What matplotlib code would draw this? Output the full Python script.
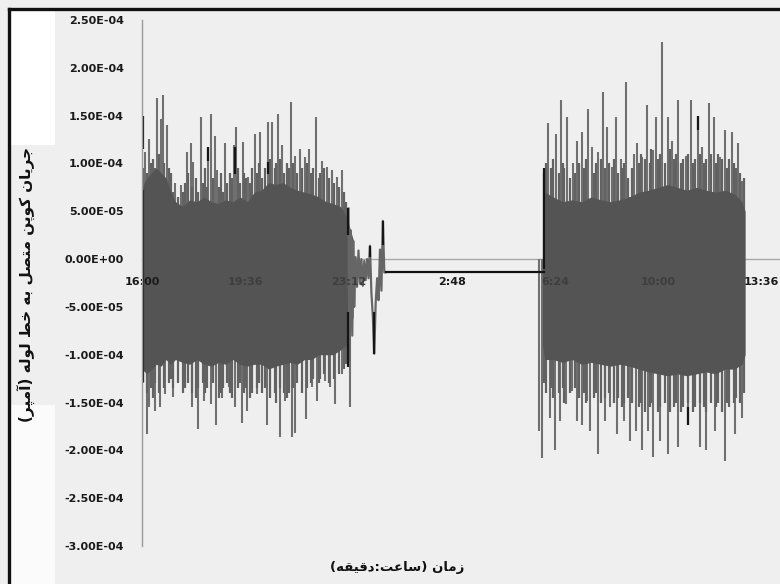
import numpy as np
import matplotlib.pyplot as plt
from matplotlib.lines import Line2D
from matplotlib.patches import Rectangle

# ---------------- data (time in minutes after 16:00, current in 1e-4 A) ----------------
tick_minutes = [0, 216, 432, 648, 864, 1080, 1296]
tick_labels = ['16:00', '19:36', '23:12', '2:48', '6:24', '10:00', '13:36']
y_ticks_e4 = [2.5, 2.0, 1.5, 1.0, 0.5, 0.0, -0.5, -1.0, -1.5, -2.0, -2.5, -3.0]

# first active period: dense band
b1_core_t = [0, 10, 20, 30, 40, 50, 60, 70, 85, 100, 115, 130, 145, 160, 175, 190, 205,
             220, 235, 250, 265, 280, 295, 310, 325, 340, 355, 370, 385, 400, 415, 428, 442]
b1_core_hi = [0.75, 0.85, 0.9, 0.95, 0.9, 0.85, 0.7, 0.6, 0.55, 0.62, 0.6, 0.65, 0.6, 0.58,
              0.62, 0.6, 0.65, 0.6, 0.7, 0.72, 0.8, 0.78, 0.8, 0.75, 0.72, 0.7, 0.68, 0.65,
              0.6, 0.58, 0.55, 0.45, 0.2]
b1_core_lo = [-1.15, -1.2, -1.15, -1.1, -1.12, -1.05, -1.1, -1.05, -1.08, -1.1, -1.05, -1.1,
              -1.12, -1.08, -1.1, -1.05, -1.1, -1.12, -1.1, -1.1, -1.15, -1.12, -1.1, -1.08,
              -1.1, -1.05, -1.05, -1.0, -1.0, -1.0, -0.95, -0.9, -0.6]

# first active period: ordinary swings
b1_mid_t = [3, 11, 19, 23, 27, 35, 47, 57, 61, 65, 75, 86, 89, 97, 104, 112, 117, 127, 132,
            135, 148, 162, 166, 170, 177, 185, 188, 200, 206, 214, 218, 227, 231, 241, 244,
            252, 257, 268, 278, 281, 289, 298, 303, 307, 316, 325, 335, 345, 354, 358, 370,
            373, 381, 391, 402, 412, 422, 427]
b1_mid_hi = [0.95, 0.9, 1.0, 1.05, 0.95, 1.1, 1.0, 0.95, 0.9, 0.7, 0.65, 0.7, 0.8, 0.9, 0.75,
             0.85, 0.7, 0.8, 0.95, 0.75, 0.85, 0.75, 0.9, 0.7, 0.8, 0.9, 0.85, 0.95, 0.8, 0.9,
             0.85, 0.8, 0.95, 0.9, 1.0, 0.85, 0.95, 1.05, 0.95, 1.0, 1.05, 0.9, 1.0, 0.95, 1.0,
             0.9, 0.95, 1.0, 0.9, 0.95, 0.85, 0.9, 0.95, 0.85, 0.8, 0.75, 0.7, 0.6]
b1_mid_lo = [-1.3, -1.4, -1.35, -1.45, -1.3, -1.4, -1.35, -1.3, -1.25, -1.35, -1.3, -1.4, -1.35,
             -1.3, -1.4, -1.45, -1.35, -1.3, -1.4, -1.35, -1.3, -1.45, -1.4, -1.35, -1.3, -1.4,
             -1.45, -1.35, -1.3, -1.4, -1.35, -1.45, -1.4, -1.35, -1.3, -1.4, -1.35, -1.45,
             -1.4, -1.5, -1.35, -1.4, -1.45, -1.4, -1.35, -1.3, -1.4, -1.35, -1.3, -1.25, -1.3,
             -1.25, -1.2, -1.3, -1.25, -1.2, -1.15, -1.1]

# first active period: largest positive and negative excursions
b1_peak_t = [6.3, 15.3, 30.7, 39.1, 43.3, 53.0, 69.1, 81.0, 93.5, 101.9, 107.4, 122.8,
             138.8, 144.4, 152.8, 157.6, 173.7, 180.6, 192.6, 196.7, 203.7, 210.8, 222.5,
             236.5, 247.0, 263.1, 272.7, 285.3, 293.7, 311.9, 320.2, 330.7, 341.2, 349.5,
             364.8, 377.4, 386.5, 397.0, 407.4, 417.9, 431.9]
b1_peak_v = [1.12, 1.26, 1.68, 1.47, 1.72, 1.40, 0.80, 0.77, 1.12, 1.21, 1.01, 1.49,
             1.17, 1.52, 1.29, 0.93, 1.21, 0.54, 1.19, 1.38, 0.79, 1.22, 0.86,
             1.31, 1.33, 1.43, 1.43, 1.52, 1.19, 1.64, 1.08, 1.15, 1.07, 1.15,
             1.49, 1.03, 0.96, 0.93, 0.86, 0.93, 0.51]
b1_trough_t = [9.8, 15.3, 27.2, 37.7, 48.1, 65.5, 104.0, 117.9, 129.8, 143.8, 154.9,
               166.8, 182.7, 194.6, 208.7, 220.4, 240.0, 260.9, 288.8, 299.3, 313.3,
               320.2, 342.6, 355.2, 365.6, 383.0, 393.5, 404.0, 417.9, 433.2, 436.0]
b1_trough_v = [-1.83, -1.55, -1.59, -1.55, -1.41, -1.44, -1.55, -1.78, -1.48, -1.52, -1.74,
               -1.45, -1.34, -1.55, -1.71, -1.59, -1.41, -1.73, -1.86, -1.48, -1.86,
               -1.82, -1.67, -1.34, -1.48, -1.27, -1.34, -1.52, -1.20, -1.13, -1.55]

# shutdown transient
tr_t = [432, 434, 437, 440, 442, 444, 447, 450, 453, 456, 459, 462, 465, 468, 471, 474,
        477, 480, 483, 486, 489, 492, 495, 498, 501, 504, 507, 511]
tr_v = [0.53, -1.06, 0.30, -0.80, 0.19, -0.50, 0.02, -0.29, 0.09, -0.25, 0.00, -0.28,
        -0.02, -0.22, 0.00, -0.20, 0.14, -0.35, -0.60, -0.99, -0.45, -0.20, -0.43, 0.10,
        -0.33, 0.40, -0.14, -0.137]

# idle period
idle_t = [511, 841]
idle_v = [-0.137, -0.137]

# second active period: dense band
b2_core_t = [838, 843, 860, 880, 900, 920, 940, 960, 980, 1000, 1020, 1040, 1060, 1080, 1100,
             1120, 1140, 1160, 1180, 1200, 1220, 1240, 1255, 1262]
b2_core_hi = [0.3, 0.7, 0.65, 0.6, 0.62, 0.6, 0.65, 0.62, 0.6, 0.62, 0.65, 0.7, 0.72, 0.75,
              0.78, 0.75, 0.72, 0.75, 0.72, 0.7, 0.72, 0.68, 0.6, 0.5]
b2_core_lo = [-0.9, -1.05, -1.05, -1.08, -1.05, -1.1, -1.08, -1.1, -1.12, -1.1, -1.12, -1.15,
              -1.18, -1.2, -1.22, -1.2, -1.22, -1.2, -1.18, -1.2, -1.15, -1.15, -1.1, -1.0]

# second active period: ordinary swings
b2_mid_t = [841, 845, 856, 860, 872, 880, 884, 895, 906, 915, 925, 929, 946, 950, 960, 968,
            978, 987, 996, 1005, 1009, 1017, 1025, 1041, 1044, 1052, 1062, 1066, 1080, 1084,
            1094, 1104, 1114, 1118, 1128, 1132, 1142, 1153, 1157, 1167, 1176, 1180, 1191,
            1202, 1206, 1214, 1225, 1229, 1238, 1242, 1251, 1260]
b2_mid_hi = [0.9, 1.0, 0.95, 1.05, 0.9, 1.0, 0.95, 0.85, 0.9, 1.0, 0.95, 1.05, 0.9, 1.0, 1.05,
             0.95, 1.0, 1.05, 0.9, 0.95, 1.0, 0.85, 0.95, 1.0, 1.1, 1.05, 1.0, 1.15, 1.05, 1.1,
             1.0, 1.15, 1.05, 1.1, 1.0, 1.05, 1.1, 1.0, 1.05, 1.1, 1.0, 1.05, 1.1, 1.0, 1.1,
             1.05, 0.95, 1.05, 1.0, 0.95, 0.9, 0.85]
b2_mid_lo = [-1.3, -1.4, -1.35, -1.45, -1.4, -1.35, -1.5, -1.4, -1.35, -1.45, -1.4, -1.5,
             -1.45, -1.4, -1.5, -1.45, -1.4, -1.5, -1.45, -1.55, -1.5, -1.45, -1.5, -1.55, -1.5,
             -1.6, -1.55, -1.5, -1.6, -1.55, -1.5, -1.6, -1.55, -1.5, -1.6, -1.55, -1.5, -1.6,
             -1.55, -1.5, -1.55, -1.6, -1.5, -1.55, -1.5, -1.6, -1.5, -1.55, -1.5, -1.45, -1.5,
             -1.4]

# second active period: largest positive and negative excursions
b2_peak_t = [850.4, 866.5, 876.3, 890.1, 902.7, 911.1, 920.3, 934.1, 941.2, 955.0, 964.3,
             973.9, 983.1, 992.1, 1001.9, 1013.0, 1021.4, 1029.8, 1036.7, 1047.2, 1056.3,
             1070.2, 1075.1, 1089.0, 1100.2, 1109.9, 1122.5, 1137.8, 1148.9, 1162.9,
             1171.3, 1186.6, 1197.0, 1209.7, 1220.1, 1234.1, 1246.6, 1256.3]
b2_peak_v = [1.42, 1.31, 1.66, 1.49, 1.00, 1.24, 1.33, 1.57, 1.17, 1.12, 1.75,
             1.38, 0.96, 1.49, 1.05, 1.85, 0.65, 1.10, 1.21, 1.07, 1.61,
             1.14, 1.49, 2.27, 1.49, 1.24, 1.66, 1.08, 1.66, 1.50,
             1.17, 1.63, 1.49, 1.07, 1.35, 1.33, 1.21, 0.82]
b2_trough_t = [831.6, 836.5, 853.9, 864.4, 874.9, 887.4, 899.3, 909.8, 920.3, 930.7, 937.7,
               955.0, 969.1, 979.5, 994.8, 1008.8, 1021.4, 1033.9, 1047.2, 1059.7, 1070.2,
               1084.2, 1101.6, 1122.5, 1143.4, 1167.9, 1179.8, 1199.3, 1220.1, 1241.0,
               1256.3]
b2_trough_v = [-1.80, -2.08, -1.66, -2.00, -1.69, -1.52, -1.38, -1.69, -1.73, -1.48, -1.80,
               -2.04, -1.69, -1.55, -1.83, -1.69, -1.90, -1.80, -2.00, -1.80, -2.07,
               -1.90, -2.04, -1.97, -1.73, -1.97, -2.00, -1.80, -2.11, -1.83,
               -1.66]

# dark segments of the recording (time, low, high)
dark_t = [1.4, 1.4, 138.8, 194.0, 263.1, 432.0, 432.0, 477.0, 486.0, 504.0, 841.0, 1143.4, 1162.9]
dark_lo = [-1.29, 1.15, 1.03, 0.89, 0.89, -1.13, 0.25, 0.02, -0.99, 0.15, -0.10, -1.73, 1.35]
dark_hi = [0.72, 1.50, 1.17, 1.17, 1.01, -0.55, 0.53, 0.14, -0.55, 0.40, 0.95, -1.55, 1.50]

x_label = 'زمان (ساعت:دقیقه)'
y_label = 'جریان کوپن متصل به خط لوله (آمپر)'

# ---------------- Persian shaping for display ----------------
# isolated, final, initial, medial presentation forms
FORMS = {
    'ا': ('\uFE8D', '\uFE8E', None, None),
    'آ': ('\uFE81', '\uFE82', None, None),
    'ب': ('\uFE8F', '\uFE90', '\uFE91', '\uFE92'),
    'پ': ('\uFB56', '\uFB57', '\uFB58', '\uFB59'),
    'ت': ('\uFE95', '\uFE96', '\uFE97', '\uFE98'),
    'ج': ('\uFE9D', '\uFE9E', '\uFE9F', '\uFEA0'),
    'خ': ('\uFEA5', '\uFEA6', '\uFEA7', '\uFEA8'),
    'د': ('\uFEA9', '\uFEAA', None, None),
    'ر': ('\uFEAD', '\uFEAE', None, None),
    'ز': ('\uFEAF', '\uFEB0', None, None),
    'س': ('\uFEB1', '\uFEB2', '\uFEB3', '\uFEB4'),
    'ص': ('\uFEB9', '\uFEBA', '\uFEBB', '\uFEBC'),
    'ط': ('\uFEC1', '\uFEC2', '\uFEC3', '\uFEC4'),
    'ع': ('\uFEC9', '\uFECA', '\uFECB', '\uFECC'),
    'ق': ('\uFED5', '\uFED6', '\uFED7', '\uFED8'),
    'ک': ('\uFB8E', '\uFB8F', '\uFB90', '\uFB91'),
    'ل': ('\uFEDD', '\uFEDE', '\uFEDF', '\uFEE0'),
    'م': ('\uFEE1', '\uFEE2', '\uFEE3', '\uFEE4'),
    'ن': ('\uFEE5', '\uFEE6', '\uFEE7', '\uFEE8'),
    'ه': ('\uFEE9', '\uFEEA', '\uFEEB', '\uFEEC'),
    'و': ('\uFEED', '\uFEEE', None, None),
    'ی': ('\uFBFC', '\uFBFD', '\uFBFE', '\uFBFF'),
}


def rtl(text):
    chars = list(text)
    shaped = []
    for i, c in enumerate(chars):
        if c not in FORMS:
            shaped.append(c)
            continue
        iso, fin, ini, med = FORMS[c]
        prev = chars[i - 1] if i > 0 else None
        nxt = chars[i + 1] if i + 1 < len(chars) else None
        join_prev = prev in FORMS and FORMS[prev][2] is not None
        join_next = nxt in FORMS and ini is not None
        if join_prev and join_next:
            shaped.append(med)
        elif join_prev:
            shaped.append(fin)
        elif join_next:
            shaped.append(ini)
        else:
            shaped.append(iso)
    mirror = {'(': ')', ')': '('}
    return ''.join(mirror.get(c, c) for c in reversed(shaped))


def e4(seq):
    return np.asarray(seq, dtype=float) * 1e-4


# ---------------- figure ----------------
W, H = 780, 584
fig = plt.figure(figsize=(W / 100, H / 100), dpi=100, facecolor='#efefef')

# paper areas and the frame of the printed figure
fig.add_artist(Rectangle((9 / W, 1 - 145 / H), 46 / W, 136 / H, transform=fig.transFigure,
                         facecolor='white', edgecolor='none', zorder=0))
fig.add_artist(Rectangle((9 / W, 0), 46 / W, 1 - 405 / H, transform=fig.transFigure,
                         facecolor='#fbfbfb', edgecolor='none', zorder=0))
fig.add_artist(Line2D([9 / W, 1], [1 - 9 / H, 1 - 9 / H], transform=fig.transFigure,
                      color='#111111', lw=2.4))
fig.add_artist(Line2D([9 / W, 9 / W], [0, 1 - 9 / H], transform=fig.transFigure,
                      color='#111111', lw=2.4))

ax = fig.add_axes([142 / W, 1 - 546 / H, (W - 142) / W, 526 / H])
ax.set_facecolor('none')
ax.set_xlim(0, 1335)
ax.set_ylim(-3e-4, 2.5e-4)

core_c = '#545454'
mid_c = '#626262'
spike_c = '#707070'

for ct, chi, clo in [(b1_core_t, b1_core_hi, b1_core_lo), (b2_core_t, b2_core_hi, b2_core_lo)]:
    ax.fill_between(ct, e4(clo), e4(chi), color=core_c, lw=0, zorder=2.1)

ax.vlines(b1_mid_t, e4(b1_mid_lo), e4(b1_mid_hi), color=mid_c, lw=1.6, zorder=2.0)
ax.vlines(b2_mid_t, e4(b2_mid_lo), e4(b2_mid_hi), color=mid_c, lw=1.6, zorder=2.0)
ax.vlines(b1_peak_t, 0, e4(b1_peak_v), color=spike_c, lw=1.5, zorder=1.9)
ax.vlines(b1_trough_t, e4(b1_trough_v), 0, color=spike_c, lw=1.5, zorder=1.9)
ax.vlines(b2_peak_t, 0, e4(b2_peak_v), color=spike_c, lw=1.5, zorder=1.9)
ax.vlines(b2_trough_t, e4(b2_trough_v), 0, color=spike_c, lw=1.5, zorder=1.9)

ax.plot(tr_t, e4(tr_v), color='#666666', lw=1.6, zorder=2.2)
ax.plot(idle_t, e4(idle_v), color='#111111', lw=1.6, zorder=2.3)
ax.vlines(dark_t, e4(dark_lo), e4(dark_hi), color='#161616', lw=1.6, zorder=2.4)

# axes lines
for side in ['top', 'right']:
    ax.spines[side].set_visible(False)
ax.spines['left'].set_color('#9a9a9a')
ax.spines['left'].set_linewidth(1.0)
ax.spines['left'].set_zorder(2.6)
ax.spines['bottom'].set_position(('data', 0))
ax.spines['bottom'].set_color('#a8a8a8')
ax.spines['bottom'].set_linewidth(1.0)
ax.spines['bottom'].set_zorder(1.0)
ax.set_axisbelow(False)

ax.set_yticks(e4(y_ticks_e4))
ax.set_yticklabels(['{:.2E}'.format(v * 1e-4) for v in y_ticks_e4],
                   fontsize=8, fontweight='bold', color='#1a1a1a')
ax.set_xticks(tick_minutes)
ax.set_xticklabels(tick_labels, fontsize=8, fontweight='bold', color='#1a1a1a')
ax.tick_params(axis='y', length=0, pad=13)
ax.tick_params(axis='x', length=0, pad=13)
# labels that sit over the recorded signal print with little contrast
for lbl in ax.get_xticklabels():
    if lbl.get_text() in ('19:36', '23:12', '6:24', '10:00'):
        lbl.set_color('#3e3e3e')

fig.text(397 / W, 1 - 568 / H, rtl(x_label), ha='center', va='center',
         fontsize=9.5, fontweight='bold', color='#111111', family=['DejaVu Sans'])
fig.text(27 / W, 1 - 285 / H, rtl(y_label), ha='center', va='center', rotation=90,
         fontsize=11, fontweight='bold', color='#111111', family=['DejaVu Sans'])

fig.savefig('out.png', dpi=100, facecolor=fig.get_facecolor())
